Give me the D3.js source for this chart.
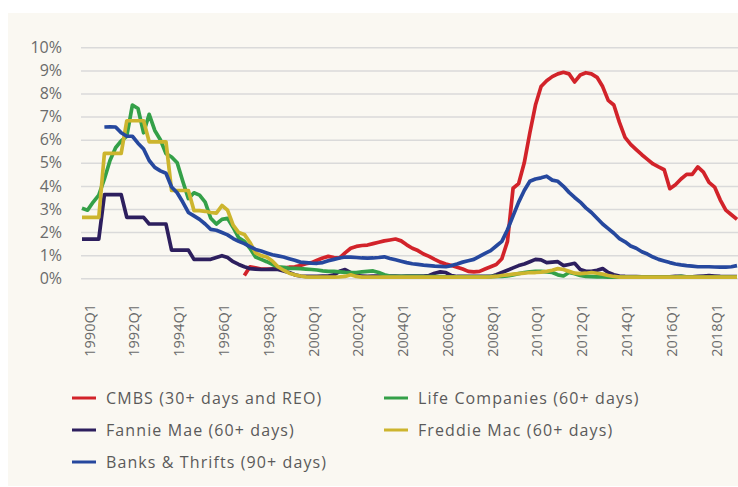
<!DOCTYPE html>
<html>
<head>
<meta charset="utf-8">
<script src="https://cdn.jsdelivr.net/npm/d3@7"></script>
<style>
  html, body { margin: 0; padding: 0; background: #ffffff; }
  #chart text { font-family: "Open Sans", sans-serif; }
</style>
</head>
<body>
<svg id="chart"></svg>
<script>

  // quarters 1990Q1 .. 2019Q2
  var startYear = 1990, numQuarters = 118;
  var quarters = d3.range(numQuarters).map(function(i) {
    return (startYear + Math.floor(i / 4)) + 'Q' + (i % 4 + 1);
  });

  var yTicks = [0, 1, 2, 3, 4, 5, 6, 7, 8, 9, 10];
  var xTickLabels = ['1990Q1', '1992Q1', '1994Q1', '1996Q1', '1998Q1', '2000Q1', '2002Q1',
    '2004Q1', '2006Q1', '2008Q1', '2010Q1', '2012Q1', '2014Q1', '2016Q1', '2018Q1'];

  var seriesNames = ['CMBS (30+ days and REO)', 'Life Companies (60+ days)', 'Fannie Mae (60+ days)',
    'Freddie Mac (60+ days)', 'Banks & Thrifts (90+ days)'];

  // CMBS starts 1997Q2
  var cmbs = [
    null, null, null, null, null, null, null, null, null, null,
    null, null, null, null, null, null, null, null, null, null,
    null, null, null, null, null, null, null, null, null, 0.12,
    0.5, 0.45, 0.4, 0.4, 0.4, 0.42, 0.45, 0.48, 0.5, 0.55,
    0.63, 0.68, 0.78, 0.88, 0.95, 0.9, 0.88, 1.1, 1.3, 1.38,
    1.42, 1.44, 1.5, 1.56, 1.62, 1.66, 1.7, 1.62, 1.45, 1.3,
    1.2, 1.05, 0.95, 0.82, 0.7, 0.62, 0.55, 0.48, 0.4, 0.3,
    0.28, 0.3, 0.4, 0.5, 0.6, 0.85, 1.6, 3.9, 4.1, 5.0,
    6.3, 7.5, 8.3, 8.55, 8.73, 8.85, 8.92, 8.85, 8.5, 8.8,
    8.9, 8.85, 8.7, 8.3, 7.7, 7.5, 6.75, 6.1, 5.8, 5.57,
    5.35, 5.15, 4.95, 4.82, 4.7, 3.88, 4.05, 4.3, 4.5, 4.5,
    4.82, 4.6, 4.15, 3.95, 3.4, 2.95, 2.75, 2.55
  ];

  var life = [
    3.03, 2.95, 3.3, 3.6, 4.3, 5.1, 5.65, 5.95, 6.15, 7.5,
    7.35, 6.3, 7.1, 6.4, 6.0, 5.4, 5.25, 5.0, 4.2, 3.45,
    3.7, 3.6, 3.3, 2.6, 2.35, 2.55, 2.6, 2.2, 1.75, 1.6,
    1.3, 0.92, 0.82, 0.72, 0.6, 0.5, 0.47, 0.43, 0.43, 0.42,
    0.4, 0.38, 0.36, 0.32, 0.3, 0.3, 0.28, 0.26, 0.25, 0.25,
    0.28, 0.3, 0.32, 0.25, 0.15, 0.1, 0.08, 0.08, 0.08, 0.08,
    0.08, 0.07, 0.07, 0.07, 0.07, 0.06, 0.06, 0.06, 0.06, 0.06,
    0.06, 0.06, 0.06, 0.07, 0.08, 0.08, 0.1, 0.15, 0.2, 0.25,
    0.28, 0.3, 0.3, 0.28, 0.25, 0.15, 0.1, 0.25, 0.2, 0.12,
    0.08, 0.07, 0.06, 0.06, 0.05, 0.05, 0.05, 0.05, 0.05, 0.05,
    0.05, 0.05, 0.05, 0.05, 0.05, 0.05, 0.05, 0.08, 0.05, 0.05,
    0.05, 0.05, 0.05, 0.05, 0.05, 0.05, 0.05, 0.05
  ];

  var fannie = [
    1.7, 1.7, 1.7, 1.7, 3.62, 3.62, 3.62, 3.62, 2.64, 2.64,
    2.64, 2.64, 2.35, 2.35, 2.35, 2.35, 1.22, 1.22, 1.22, 1.22,
    0.82, 0.82, 0.82, 0.82, 0.9, 0.98, 0.9, 0.72, 0.6, 0.5,
    0.42, 0.4, 0.38, 0.38, 0.4, 0.38, 0.32, 0.25, 0.15, 0.1,
    0.08, 0.08, 0.08, 0.1, 0.1, 0.15, 0.3, 0.38, 0.25, 0.12,
    0.1, 0.08, 0.1, 0.09, 0.08, 0.1, 0.09, 0.08, 0.09, 0.1,
    0.1, 0.1, 0.12, 0.22, 0.28, 0.25, 0.12, 0.08, 0.08, 0.08,
    0.08, 0.08, 0.08, 0.08, 0.15, 0.25, 0.35, 0.45, 0.55, 0.62,
    0.72, 0.82, 0.8, 0.68, 0.7, 0.72, 0.55, 0.6, 0.65, 0.38,
    0.3, 0.3, 0.35, 0.42, 0.25, 0.15, 0.1, 0.08, 0.07, 0.07,
    0.06, 0.06, 0.06, 0.06, 0.06, 0.06, 0.08, 0.08, 0.06, 0.06,
    0.08, 0.1, 0.12, 0.1, 0.08, 0.07, 0.07, 0.07
  ];

  var freddie = [
    2.64, 2.64, 2.64, 2.64, 5.41, 5.41, 5.41, 5.41, 6.82, 6.82,
    6.82, 6.82, 5.91, 5.91, 5.91, 5.91, 3.8, 3.8, 3.8, 3.8,
    2.93, 2.93, 2.9, 2.85, 2.82, 3.15, 2.95, 2.3, 1.98, 1.9,
    1.55, 1.1, 0.98, 0.92, 0.75, 0.5, 0.35, 0.22, 0.15, 0.1,
    0.06, 0.05, 0.05, 0.05, 0.05, 0.05, 0.06, 0.08, 0.15, 0.08,
    0.05, 0.05, 0.05, 0.05, 0.05, 0.05, 0.05, 0.05, 0.05, 0.05,
    0.05, 0.05, 0.05, 0.05, 0.05, 0.05, 0.05, 0.05, 0.05, 0.05,
    0.05, 0.05, 0.05, 0.06, 0.08, 0.12, 0.15, 0.18, 0.2, 0.22,
    0.25, 0.25, 0.27, 0.3, 0.35, 0.42, 0.38, 0.3, 0.22, 0.2,
    0.22, 0.25, 0.22, 0.18, 0.12, 0.08, 0.05, 0.05, 0.05, 0.05,
    0.05, 0.05, 0.05, 0.05, 0.05, 0.05, 0.05, 0.05, 0.05, 0.05,
    0.05, 0.05, 0.05, 0.05, 0.05, 0.05, 0.05, 0.05
  ];

  // banks & thrifts starts 1991Q1
  var banks = [
    null, null, null, null, 6.55, 6.56, 6.55, 6.3, 6.15, 6.15,
    5.85, 5.6, 5.1, 4.8, 4.65, 4.55, 3.95, 3.7, 3.3, 2.85,
    2.7, 2.55, 2.35, 2.12, 2.08, 1.98, 1.88, 1.72, 1.6, 1.5,
    1.37, 1.25, 1.18, 1.1, 1.02, 0.97, 0.92, 0.85, 0.78, 0.7,
    0.68, 0.66, 0.65, 0.68, 0.76, 0.82, 0.88, 0.92, 0.92, 0.9,
    0.88, 0.87, 0.88, 0.9, 0.93, 0.86, 0.8, 0.74, 0.68, 0.63,
    0.6, 0.57, 0.55, 0.53, 0.52, 0.5, 0.55, 0.62, 0.7, 0.76,
    0.82, 0.95, 1.08, 1.2, 1.4, 1.6, 2.1, 2.7, 3.3, 3.8,
    4.2, 4.3, 4.35, 4.42, 4.25, 4.2, 3.98, 3.72, 3.5, 3.3,
    3.05, 2.85, 2.6, 2.35, 2.15, 1.95, 1.72, 1.58, 1.4, 1.3,
    1.15, 1.05, 0.92, 0.82, 0.75, 0.68, 0.62, 0.58, 0.55, 0.53,
    0.5, 0.5, 0.5, 0.49, 0.48, 0.48, 0.5, 0.55
  ];

  var seriesColors = ['#d2232a', '#34a048', '#2d1f5e', '#cdb52e', '#26489e'];
  var seriesValues = [cmbs, life, fannie, freddie, banks];
  // draw order: red, purple, green, gold, blue on top
  var drawOrder = [0, 2, 1, 3, 4];

  var width = 738, height = 487;

  var svg = d3.select('#chart')
      .attr('width', width)
      .attr('height', height);

  // cream panel
  svg.append('rect')
      .attr('x', 8)
      .attr('y', 13)
      .attr('width', width - 8)
      .attr('height', 473)
      .attr('fill', '#faf8f2');

  var x = d3.scalePoint()
      .domain(quarters)
      .range([82, 737]);

  var y = d3.scaleLinear()
      .domain([0, 10])
      .range([278.3, 47.3]);

  // gridlines + y labels
  var yAxis = svg.append('g')
      .attr('transform', 'translate(81,0)')
      .call(d3.axisLeft(y).tickValues(yTicks).tickSize(-(width - 81)).tickPadding(19)
        .tickFormat(function(d) { return d + '%'; }));
  yAxis.select('.domain').remove();
  yAxis.selectAll('.tick line')
      .attr('stroke', '#dadada')
      .attr('stroke-width', 1.5);
  yAxis.selectAll('.tick text')
      .attr('fill', '#6b6b6b')
      .attr('font-size', 16)
      .attr('font-family', '"Open Sans", sans-serif');

  // x labels, rotated
  var xAxis = svg.append('g')
      .attr('transform', 'translate(7,304)')
      .call(d3.axisBottom(x).tickValues(xTickLabels).tickSize(0).tickPadding(0));
  xAxis.select('.domain').remove();
  xAxis.selectAll('.tick text')
      .attr('fill', '#6b6b6b')
      .attr('font-size', 14.5)
      .attr('font-family', '"Open Sans", sans-serif')
      .attr('text-anchor', 'end')
      .attr('transform', 'rotate(-90)')
      .attr('x', 0)
      .attr('y', 0)
      .attr('dy', '0.35em');

  var line = d3.line()
      .defined(function(d) { return d != null; })
      .x(function(d, i) { return x(quarters[i]); })
      .y(function(d) { return y(d); });

  drawOrder.forEach(function(k) {
    svg.append('path')
        .datum(seriesValues[k])
        .attr('fill', 'none')
        .attr('stroke', seriesColors[k])
        .attr('stroke-width', 3.7)
        .attr('stroke-linejoin', 'round')
        .attr('d', line);
  });

  // legend, two columns
  var legendPos = [
    {x: 72, y: 398}, {x: 384, y: 398},
    {x: 72, y: 430}, {x: 384, y: 430},
    {x: 72, y: 462}
  ];
  var legend = svg.append('g').attr('class', 'legend');
  seriesNames.forEach(function(name, i) {
    var g = legend.append('g')
        .attr('transform', 'translate(' + legendPos[i].x + ',' + legendPos[i].y + ')');
    g.append('line')
        .attr('x1', 0).attr('x2', 24)
        .attr('y1', 0).attr('y2', 0)
        .attr('stroke', seriesColors[i])
        .attr('stroke-width', 3);
    g.append('text')
        .attr('x', 34)
        .attr('dy', '0.35em')
        .attr('fill', '#5a5a5a')
        .attr('font-size', 16)
        .attr('letter-spacing', 1.1)
        .text(name);
  });

</script>
</body>
</html>
